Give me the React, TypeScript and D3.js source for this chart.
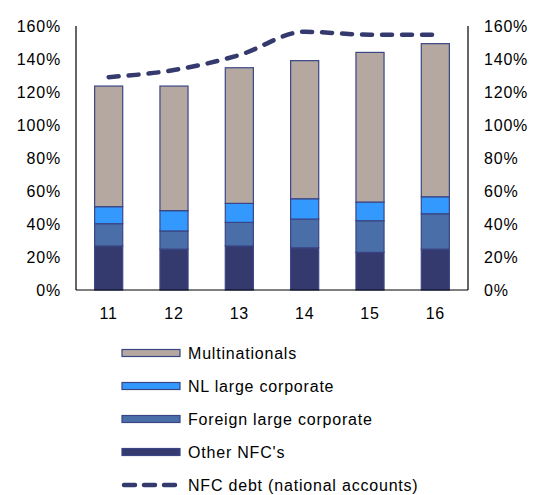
import React from 'react';
import * as d3 from 'd3';

const years = ['11', '12', '13', '14', '15', '16'];
const otherNfc = [26.7, 24.8, 26.7, 25.6, 22.8, 24.8];
const foreignLarge = [13.5, 11.0, 14.3, 17.4, 19.2, 21.4];
const nlLarge = [10.3, 12.3, 11.5, 12.3, 11.3, 10.3];
const multinationals = [73.1, 75.5, 82.2, 83.7, 90.7, 92.8];
const nfcDebt = [129, 133.3, 142.4, 156.5, 154.7, 154.7];
const yTicks = [0, 20, 40, 60, 80, 100, 120, 140, 160];

const seriesNames = ['Other NFC\'s', 'Foreign large corporate', 'NL large corporate', 'Multinationals'];
const seriesValues = [otherNfc, foreignLarge, nlLarge, multinationals];
const seriesColors = ['#353a6e', '#4a6ea8', '#3399ff', '#b5a8a0'];

const W = 533;
const H = 495;
const left = 76;
const right = 468;
const top = 26;
const bottom = 290;
const font = '"Liberation Sans", Arial, sans-serif';
const lineColor = '#353a6e';
const edge = '#3a4585';
const spacing = 0.8;

export default function App() {
  const x = d3.scaleBand<string>().domain(years).range([left, right]).paddingInner(0.57).paddingOuter(0.285);
  const y = d3.scaleLinear().domain([0, 160]).range([bottom, top]);

  const table = years.map((yr, i) => {
    const row: Record<string, number | string> = { year: yr };
    seriesNames.forEach((n, k) => (row[n] = seriesValues[k][i]));
    return row;
  });
  const stacked = d3.stack<any>().keys(seriesNames)(table);

  const line = d3
    .line<number>()
    .x((_, i) => (x(years[i]) as number) + x.bandwidth() / 2)
    .y((d) => y(d))
    .curve(d3.curveMonotoneX);

  const legendItems = [
    { name: 'Multinationals', color: seriesColors[3] },
    { name: 'NL large corporate', color: seriesColors[2] },
    { name: 'Foreign large corporate', color: seriesColors[1] },
    { name: 'Other NFC\'s', color: seriesColors[0] },
  ];
  const legendY = d3.scalePoint<number>().domain([0, 1, 2, 3, 4]).range([353, 485]);

  return (
    <svg width={W} height={H} style={{ position: 'absolute', left: 0, top: 0 }} fontFamily={font} letterSpacing={spacing}>
      <rect width={W} height={H} fill="#fff" />
      {stacked.map((layer, k) => (
        <g key={layer.key} fill={seriesColors[k]}>
          {layer.map((d, i) => (
            <rect
              key={i}
              x={x(years[i])}
              y={y(d[1])}
              width={x.bandwidth()}
              height={y(d[0]) - y(d[1])}
              stroke={edge}
              strokeWidth={1.2}
            />
          ))}
        </g>
      ))}
      <line x1={left} x2={left} y1={top} y2={bottom} stroke="#000" strokeWidth={1.2} />
      <line x1={right} x2={right} y1={top} y2={bottom} stroke="#000" strokeWidth={1.2} />
      <line x1={left} x2={right} y1={bottom} y2={bottom} stroke="#000" strokeWidth={1.2} />
      <path
        d={line(nfcDebt) || ''}
        fill="none"
        stroke={lineColor}
        strokeWidth={4.5}
        strokeDasharray="10 10"
        strokeLinecap="round"
      />
      {yTicks.map((t) => (
        <g key={t} fontSize={16} fill="#000">
          <text x={61} y={y(t)} dy="0.35em" textAnchor="end">{t}%</text>
          <text x={484} y={y(t)} dy="0.35em" textAnchor="start">{t}%</text>
        </g>
      ))}
      {years.map((yr) => (
        <text
          key={yr}
          x={(x(yr) as number) + x.bandwidth() / 2}
          y={319}
          fontSize={16}
          textAnchor="middle"
          fill="#000"
        >
          {yr}
        </text>
      ))}
      {legendItems.map((it, i) => (
        <g key={it.name}>
          <rect x={122} y={legendY(i)! - 3.5} width={58} height={7} fill={it.color} stroke={edge} strokeWidth={1.2} />
          <text x={188} y={legendY(i)} dy="0.35em" fontSize={16} fill="#000">{it.name}</text>
        </g>
      ))}
      <line
        x1={124}
        x2={178}
        y1={legendY(4)}
        y2={legendY(4)}
        stroke={lineColor}
        strokeWidth={4.5}
        strokeDasharray="11 9"
        strokeLinecap="round"
      />
      <text x={188} y={legendY(4)} dy="0.35em" fontSize={16} fill="#000">NFC debt (national accounts)</text>
    </svg>
  );
}
